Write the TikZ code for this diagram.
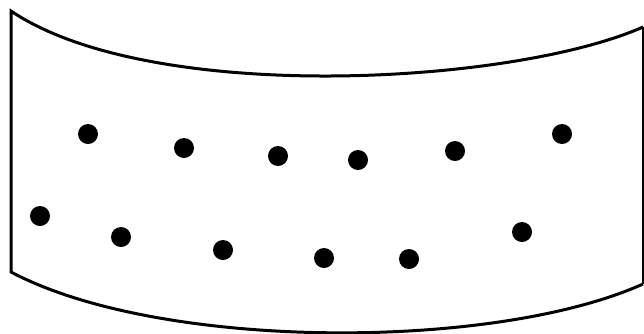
\documentclass[tikz,border=0pt]{standalone}
\begin{document}
\begin{tikzpicture}[x=1pt,y=-1pt,
  edge/.style={line width=3pt,line join=miter,black},
  dot/.style={circle,fill=black,inner sep=0pt,minimum size=20pt}]
\useasboundingbox (0,0) rectangle (644,333);
% sheet outline
\draw[edge] (643,284) .. controls (494,351) and (160,351) .. (11,272) -- (11,11)
  .. controls (150,105) and (512,85) .. (643,27);
\draw[line width=2pt] (643,27) -- (643,284);
% upper row of dots
\foreach \n/\x/\y in {a1/88/134, a2/184/148, a3/278/156, a4/358/160, a5/455/151, a6/562/134}
  \node[dot] (\n) at (\x,\y) {};
% lower row of dots
\foreach \n/\x/\y in {b1/40/216, b2/121/237, b3/223/250, b4/324/258, b5/409/259, b6/522/232}
  \node[dot] (\n) at (\x,\y) {};
\end{tikzpicture}
\end{document}
